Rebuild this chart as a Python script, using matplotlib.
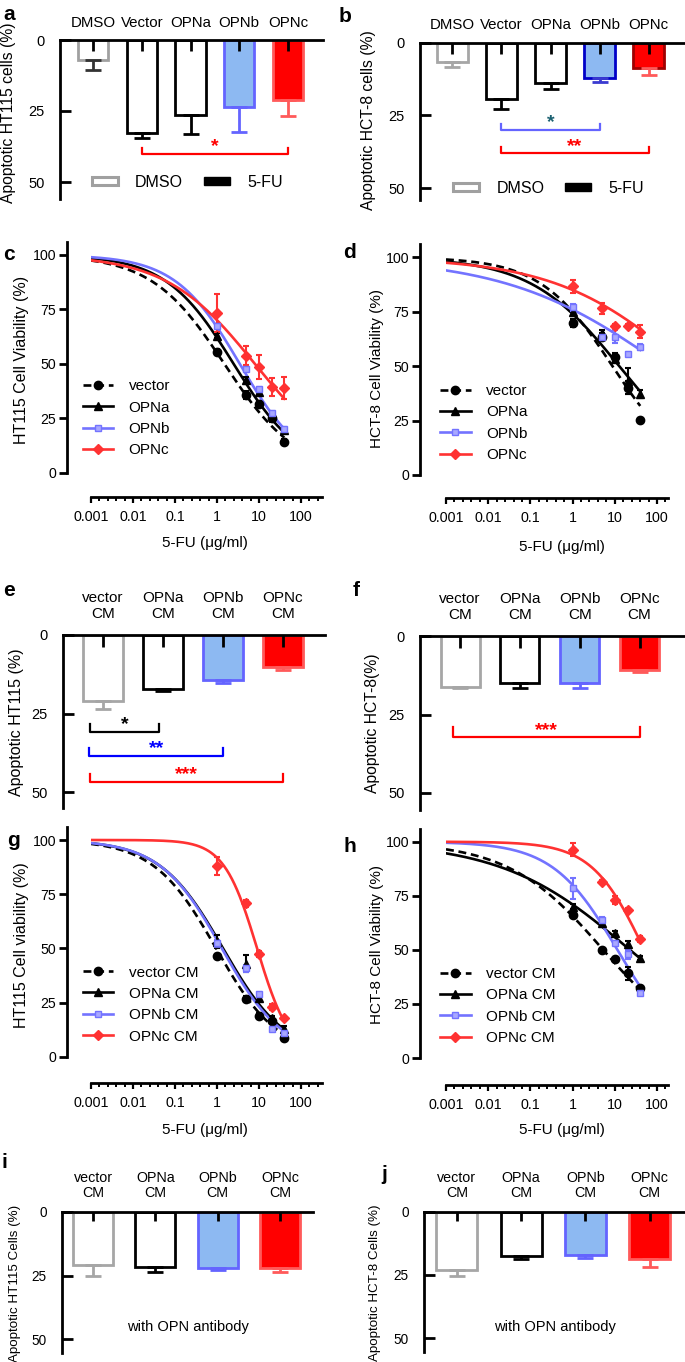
import numpy as np
import matplotlib
matplotlib.use('Agg')
import matplotlib.pyplot as plt
from matplotlib.patches import Patch
from matplotlib.lines import Line2D
from matplotlib.ticker import FixedLocator, FixedFormatter, NullFormatter

plt.rcParams['font.family'] = ['Liberation Sans', 'DejaVu Sans']

# ======================= DATA =======================
ab_categories = ['DMSO', 'Vector', 'OPNa', 'OPNb', 'OPNc']
a_means = [7.0, 32.7, 26.4, 23.5, 21.0]
a_sem = [3.5, 1.8, 6.6, 9.0, 5.8]
b_means = [6.6, 19.3, 13.8, 12.0, 8.7]
b_sem = [1.6, 3.5, 2.2, 1.3, 2.3]
ab_legend = ['DMSO', '5-FU']

cm_categories = ['vector\nCM', 'OPNa\nCM', 'OPNb\nCM', 'OPNc\nCM']
e_means = [21.0, 17.2, 14.3, 10.1]
e_sem = [2.6, 0.6, 1.0, 0.9]
f_means = [16.4, 14.9, 14.9, 10.8]
f_sem = [0.3, 1.7, 1.7, 0.8]
i_means = [20.9, 21.8, 22.2, 22.2]
i_sem = [4.3, 1.8, 0.7, 1.3]
j_means = [22.9, 17.4, 17.2, 18.9]
j_sem = [2.6, 1.5, 1.2, 3.0]

# significance brackets: (start, end, level, label)
a_sig = [(1, 4, 40.0, '*')]
b_sig = [(1, 3, 30.0, '*'), (1, 4, 38.0, '**')]
e_sig = [(-0.22, 0.93, 30.9, '*'), (-0.23, 2.0, 38.5, '**'), (-0.22, 3.0, 46.8, '***')]
f_sig = [(-0.12, 3.0, 32.3, '***')]

dose = [1, 5, 10, 20, 40]
x_tick_values = [0.001, 0.01, 0.1, 1, 10, 100]
x_tick_labels = ['0.001', '0.01', '0.1', '1', '10', '100']
cd_labels = ['vector', 'OPNa', 'OPNb', 'OPNc']
gh_labels = ['vector CM', 'OPNa CM', 'OPNb CM', 'OPNc CM']

c_vector = [55.5, 35.8, 31.7, 25.0, 14.4]
c_opna = [63.0, 42.5, 37.3, 26.6, 19.7]
c_opnb = [67.4, 47.7, 38.5, 27.5, 20.0]
c_opnc = [73.4, 53.8, 48.8, 39.4, 39.0]
c_err_vector = [1.5, 2.0, 1.5, 1.5, 1.0]
c_err_opna = [1.0, 1.5, 1.5, 1.5, 1.0]
c_err_opnb = [1.0, 1.5, 1.0, 1.0, 1.0]
c_err_opnc = [8.5, 4.4, 5.5, 4.0, 5.0]
c_ic50 = [1.5, 2.5, 3.5, 8.0]
c_hill = [0.50, 0.535, 0.563, 0.41]

d_vector = [69.8, 63.5, 54.4, 40.0, 25.3]
d_opna = [75.0, 65.0, 53.5, 43.0, 37.2]
d_opnb = [77.0, 63.5, 63.5, 55.6, 58.9]
d_opnc = [86.8, 76.5, 68.4, 68.4, 65.8]
d_err_vector = [2.0, 1.5, 1.5, 3.0, 1.0]
d_err_opna = [2.0, 1.5, 1.5, 6.0, 2.0]
d_err_opnb = [1.5, 1.0, 3.0, 1.0, 1.5]
d_err_opnc = [3.0, 2.5, 1.0, 1.0, 3.0]
d_ic50 = [8.8, 12.7, 147.0, 500.0]
d_hill = [0.506, 0.412, 0.231, 0.279]

g_vector = [46.5, 26.8, 19.0, 16.6, 8.5]
g_opna = [53.0, 43.0, 27.0, 17.8, 13.0]
g_opnb = [52.3, 40.8, 28.9, 12.8, 11.0]
g_opnc = [88.0, 70.8, 47.4, 23.0, 17.8]
g_err_vector = [1.0, 1.0, 1.0, 1.0, 1.0]
g_err_opna = [3.0, 4.0, 1.0, 1.0, 1.0]
g_err_opnb = [1.5, 1.5, 1.0, 1.0, 1.0]
g_err_opnc = [4.0, 1.5, 1.5, 1.5, 1.0]
g_ic50 = [0.95, 1.39, 1.30, 9.0]
g_hill = [0.583, 0.578, 0.59, 1.10]

h_vector = [66.0, 50.0, 45.8, 39.2, 32.2]
h_opna = [70.0, 62.6, 57.6, 52.7, 46.1]
h_opnb = [78.4, 63.8, 53.3, 48.0, 30.2]
h_opnc = [96.2, 81.5, 73.0, 68.4, 54.9]
h_err_vector = [1.0, 1.0, 1.0, 3.0, 1.0]
h_err_opna = [1.0, 2.0, 1.0, 1.5, 1.0]
h_err_opnb = [5.0, 1.5, 1.0, 2.0, 1.0]
h_err_opnc = [3.0, 1.0, 2.0, 1.0, 1.5]
h_ic50 = [5.3, 22.8, 11.5, 50.0]
h_hill = [0.386, 0.286, 0.567, 0.70]
fit_top = 100.0
fit_bottom = 0.0

# ======================= STYLE =======================
W, H = 685, 1362
PX = 0.72  # pixels -> points at 100 dpi
GRAY = '#a6a6a6'
LBLUE = '#8db9f2'
BLUE_E = '#6464ff'
RED = '#ff0000'
RED_E = '#ff5a5a'
CURVE_COL = ['black', 'black', '#7373ff', '#ff3232']
CURVE_LS = [(0, (3, 1.8)), '-', '-', '-']
MARKERS = ['o', '^', 's', 'D']
MSIZE = [6, 5.5, 5, 5]
MFACE = ['black', 'black', '#a8a8ff', '#ff3232']

fig = plt.figure(figsize=(W / 100, H / 100), dpi=100)


def add_ax(l, t, r, b):
    return fig.add_axes([l / W, 1 - b / H, (r - l) / W, (b - t) / H])


def bar_panel(box, means, sem, cats, faces, edges, errc, ymax, xlim, width,
              cat_fs, cat_pad, tick_fs, lw=2.0, linespacing=1.15):
    ax = add_ax(*box)
    x = np.arange(len(means))
    ax.bar(x, means, width, color=faces, edgecolor=edges, linewidth=lw, zorder=2)
    for xi, m, s, c in zip(x, means, sem, errc):
        ax.errorbar(xi, m, yerr=[[0], [s]], color=c, capsize=6 * PX * 1.4,
                    elinewidth=lw, capthick=lw, zorder=3)
    ax.vlines(x, 0, 3.8, colors='black', lw=lw, zorder=3)
    ax.set_ylim(ymax, 0)
    ax.set_xlim(*xlim)
    ax.xaxis.tick_top()
    ax.set_xticks(x)
    ax.set_xticklabels(cats, fontsize=cat_fs, linespacing=linespacing)
    ax.tick_params(axis='x', length=0, pad=cat_pad)
    ax.set_yticks([0, 25, 50])
    ax.tick_params(axis='y', direction='in', length=8, width=2,
                   labelsize=tick_fs, pad=11)
    for s in ['right', 'bottom']:
        ax.spines[s].set_visible(False)
    for s in ['top', 'left']:
        ax.spines[s].set_linewidth(2.0)
    return ax


def brackets(ax, sig, colors, star_colors, tick=2.5, fs=14):
    for (x0, x1, y, lab), c, sc in zip(sig, colors, star_colors):
        ax.plot([x0, x0, x1, x1], [y - tick, y, y, y - tick], color=c, lw=1.6,
                zorder=3, clip_on=False)
        ax.annotate(lab, ((x0 + x1) / 2, y), xytext=(0, 1.8),
                    textcoords='offset points', color=sc, fontsize=fs,
                    ha='center', va='baseline', fontweight='bold')


def curve_panel(box, xmax, series, errs, ic50, hill, labels, left_out, bottom_out,
                leg_anchor):
    ax = add_ax(*box)
    xs = np.logspace(-3, np.log10(dose[-1]), 300)
    for k in range(4):
        fit = fit_bottom + (fit_top - fit_bottom) / (1 + (xs / ic50[k]) ** hill[k])
        ax.plot(xs, fit, color=CURVE_COL[k], ls=CURVE_LS[k], lw=1.9, zorder=2)
    for k in range(4):
        ax.errorbar(dose, series[k], yerr=errs[k], fmt=MARKERS[k], color=CURVE_COL[k],
                    mfc=MFACE[k], mec=CURVE_COL[k], ms=MSIZE[k], capsize=2.5,
                    elinewidth=1.5, capthick=1.5, ls='none', zorder=3)
    ax.set_xscale('log')
    ax.set_xlim(1e-3, xmax)
    ax.set_ylim(0, 106)
    ax.xaxis.set_major_locator(FixedLocator(x_tick_values))
    ax.xaxis.set_major_formatter(FixedFormatter(x_tick_labels))
    minors = [10 ** (p + q / 5) for p in range(-3, 3) for q in range(1, 5)
              if 10 ** (p + q / 5) < xmax]
    ax.xaxis.set_minor_locator(FixedLocator(minors))
    ax.xaxis.set_minor_formatter(NullFormatter())
    ax.set_yticks([0, 25, 50, 75, 100])
    ax.tick_params(axis='y', direction='out', length=6, width=2, labelsize=10.2, pad=2)
    ax.tick_params(axis='x', which='major', direction='out', length=4.5, width=1.6,
                   labelsize=10.3, pad=5)
    ax.tick_params(axis='x', which='minor', direction='out', length=3, width=1.4)
    for s in ['right', 'top']:
        ax.spines[s].set_visible(False)
    ax.spines['left'].set_position(('outward', left_out * PX))
    ax.spines['bottom'].set_position(('outward', bottom_out * PX))
    ax.spines['left'].set_linewidth(2.0)
    ax.spines['bottom'].set_linewidth(2.0)
    handles = [Line2D([], [], color=CURVE_COL[k], ls=CURVE_LS[k], lw=1.9,
                      marker=MARKERS[k], mfc=MFACE[k], mec=CURVE_COL[k], ms=MSIZE[k])
               for k in range(4)]
    ax.legend(handles, labels, loc='upper left', bbox_to_anchor=leg_anchor,
              frameon=False, fontsize=11, handlelength=2.0, handletextpad=1.0,
              labelspacing=0.48, borderpad=0, borderaxespad=0, numpoints=1)
    return ax


# ---------------- panel a ----------------
ax_a = bar_panel((60, 40, 323, 40 + 56 * 2.84), a_means, a_sem, ab_categories,
                 ['white', 'white', 'white', LBLUE, RED],
                 ['#a0a0a0', 'black', 'black', BLUE_E, RED_E],
                 ['#333333', 'black', 'black', BLUE_E, RED_E],
                 56, (-0.68, 4.72), 0.62, 10.8, 7.0, 10.5)
brackets(ax_a, a_sig, [RED], [RED], tick=2.0)
leg_h = [Patch(facecolor='white', edgecolor='#a0a0a0', lw=2.2),
         Patch(facecolor='black', edgecolor='black')]
ax_a.legend(leg_h, ab_legend, loc='center left', bbox_to_anchor=(0.122, 0.107),
            ncol=2, frameon=False, fontsize=11.5, handlelength=1.6, handleheight=0.45,
            handletextpad=1.1, columnspacing=1.3, borderpad=0, borderaxespad=0)

# ---------------- panel b ----------------
ax_b = bar_panel((420, 43, 685, 43 + 54 * 2.9), b_means, b_sem, ab_categories,
                 ['white', 'white', 'white', LBLUE, RED],
                 [GRAY, 'black', 'black', '#0000c8', '#a00000'],
                 [GRAY, 'black', 'black', '#3a3ad0', RED_E],
                 54, (-0.66, 4.74), 0.63, 10.8, 8.0, 10.5)
brackets(ax_b, b_sig, [BLUE_E, RED], ['#1a6070', RED], tick=2.2)
ax_b.legend(leg_h, ab_legend, loc='center left', bbox_to_anchor=(0.125, 0.074),
            ncol=2, frameon=False, fontsize=11.5, handlelength=1.6, handleheight=0.45,
            handletextpad=1.1, columnspacing=1.3, borderpad=0, borderaxespad=0)

# ---------------- panel c / d ----------------
curve_panel((91, 473 - 106 * 2.18, 322, 473), 10 ** 2.5,
            [c_vector, c_opna, c_opnb, c_opnc],
            [c_err_vector, c_err_opna, c_err_opnb, c_err_opnc],
            c_ic50, c_hill, cd_labels, 24, 24, (-0.035, 0.405))
curve_panel((446, 475 - 106 * 2.177, 668, 475), 10 ** 2.26,
            [d_vector, d_opna, d_opnb, d_opnc],
            [d_err_vector, d_err_opna, d_err_opnb, d_err_opnc],
            d_ic50, d_hill, cd_labels, 26, 23, (-0.027, 0.395))

# ---------------- panel e / f ----------------
cm_faces = ['white', 'white', LBLUE, RED]
cm_edges = [GRAY, 'black', BLUE_E, RED_E]
cm_err = [GRAY, 'black', BLUE_E, RED_E]
ax_e = bar_panel((63, 635, 325, 635 + 55 * 3.14), e_means, e_sem, cm_categories,
                 cm_faces, cm_edges, cm_err, 55, (-0.667, 3.7), 0.667, 11, 10, 10.5)
brackets(ax_e, e_sig, ['black', '#0000ff', RED], ['black', '#0000ff', RED],
         tick=2.6)
ax_f = bar_panel((420, 636, 685, 636 + 55.4 * 3.14), f_means, f_sem, cm_categories,
                 cm_faces, cm_edges, cm_err, 55.4, (-0.67, 3.76), 0.65, 11, 10, 10.5)
brackets(ax_f, f_sig, [RED], [RED], tick=3.2)

# ---------------- panel g / h ----------------
curve_panel((91, 1056.7 - 106 * 2.167, 322, 1056.7), 10 ** 2.5,
            [g_vector, g_opna, g_opnb, g_opnc],
            [g_err_vector, g_err_opna, g_err_opnb, g_err_opnc],
            g_ic50, g_hill, gh_labels, 24, 26, (-0.035, 0.397))
curve_panel((446, 1058 - 106 * 2.163, 668, 1058), 10 ** 2.26,
            [h_vector, h_opna, h_opnb, h_opnc],
            [h_err_vector, h_err_opna, h_err_opnb, h_err_opnc],
            h_ic50, h_hill, gh_labels, 26, 27, (-0.027, 0.397))

# ---------------- panel i / j ----------------
ax_i = bar_panel((62, 1211.7, 313, 1211.7 + 55.5 * 2.554), i_means, i_sem,
                 cm_categories, cm_faces, cm_edges, cm_err, 55.5, (-0.5, 3.53), 0.64,
                 10.3, 8.4, 9.8, linespacing=1.05)
ax_i.text(0.5, 0.187, 'with OPN antibody', transform=ax_i.transAxes, ha='center',
          va='center', fontsize=10.5)
ax_j = bar_panel((424, 1211.7, 685, 1211.7 + 55.5 * 2.526), j_means, j_sem,
                 cm_categories, cm_faces, cm_edges, cm_err, 55.5, (-0.51, 3.55), 0.64,
                 10.3, 8.4, 9.8, linespacing=1.05)
ax_j.text(0.5, 0.178, 'with OPN antibody', transform=ax_j.transAxes, ha='center',
          va='center', fontsize=10.5)


# ---------------- texts ----------------
def ftext(x, y, s, **kw):
    fig.text(x / W, 1 - y / H, s, **kw)


ylabels = [
    (9, 113, 'Apoptotic HT115 cells (%)', 11.3),
    (368, 120, 'Apoptotic HCT-8 cells (%)', 11.3),
    (22, 360, 'HT115 Cell Viability (%)', 11.5),
    (377, 368, 'HCT-8 Cell Viability (%)', 11.0),
    (17, 722, 'Apoptotic HT115 (%)', 11.5),
    (373, 723, 'Apoptotic HCT-8(%)', 11.3),
    (22, 945, 'HT115 Cell viability (%)', 11.5),
    (377, 944, 'HCT-8 Cell Viability (%)', 11.0),
    (15, 1283, 'Apoptotic HT115 Cells (%)', 9.6),
    (375, 1283, 'Apoptotic HCT-8 Cells (%)', 9.6),
]
for x, y, s, fs in ylabels:
    ftext(x, y, s, rotation=90, ha='center', va='center', fontsize=fs)

for x, y in [(205, 543), (562, 547), (205, 1130), (562, 1130)]:
    ftext(x, y, '5-FU (\u03bcg/ml)', ha='center', va='center', fontsize=11)

letters = [('a', 9, 15), ('b', 345, 16), ('c', 9, 255), ('d', 349, 253),
           ('e', 9, 591), ('f', 356, 591), ('g', 13, 840), ('h', 350, 847),
           ('i', 4, 1163), ('j', 384, 1174)]
for s, x, y in letters:
    ftext(x, y, s, ha='center', va='center', fontsize=15, fontweight='bold')

fig.savefig('out.png', dpi=100)
